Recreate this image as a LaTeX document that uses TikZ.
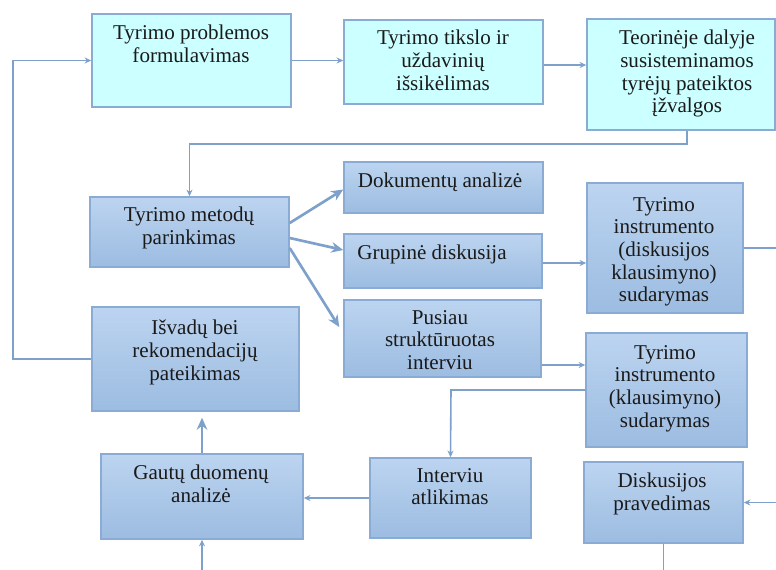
\documentclass[tikz,border=0pt]{standalone}
\usepackage{fontspec}
\setmainfont{Liberation Serif}
\usetikzlibrary{arrows.meta,calc}

\definecolor{cyanfill}{HTML}{CCFFFF}
\definecolor{boxtop}{HTML}{BCD4F0}
\definecolor{boxbot}{HTML}{9CBCE1}
\definecolor{boxline}{HTML}{8AABD4}
\definecolor{linkline}{HTML}{7EA1CC}
\definecolor{inktext}{HTML}{1A1A1A}

\tikzset{
  frame/.style={rectangle, draw=boxline, line width=1.1pt, inner sep=0pt},
  cyanbox/.style={frame, fill=cyanfill},
  bluebox/.style={frame, top color=boxtop, bottom color=boxbot},
  txt/.style={anchor=north, align=center, inner sep=0pt, text=inktext,
    font=\fontsize{15.8}{17}\selectfont},
  flow/.style={draw=linkline, line width=1.2pt,
    -{Stealth[length=5pt,width=4.5pt]}},
  thickflow/.style={draw=linkline, line width=2pt,
    -{Stealth[length=9pt,width=8pt]}},
}

% box given by its corners (x1,y1) and (x2,y2), in pixel units
\newcommand\flowbox[6]{%
  \node[#2, minimum width={(#5-#3)*0.75pt}, minimum height={(#6-#4)*0.75pt}]
    (#1) at ({(#3+#5)/2},{(#4+#6)/2}) {};}

\begin{document}
\begin{tikzpicture}[x=0.75pt, y=-0.75pt]
\path[use as bounding box] (0,0) rectangle (776,569);
\clip (0,0) rectangle (776,569);

% boxes
\flowbox{form}{cyanbox}{92}{14}{291}{107}
\flowbox{tiksl}{cyanbox}{344}{20}{543}{104}
\flowbox{teor}{cyanbox}{587}{19}{775}{130}
\flowbox{metod}{bluebox}{90}{197}{289}{267}
\flowbox{dok}{bluebox}{344}{162}{543}{213}
\flowbox{grup}{bluebox}{344}{234}{542}{288}
\flowbox{pus}{bluebox}{344}{300}{541}{377}
\flowbox{instd}{bluebox}{587}{183}{743}{313}
\flowbox{isv}{bluebox}{92}{307}{299}{411}
\flowbox{instk}{bluebox}{586}{333}{747}{447}
\flowbox{intv}{bluebox}{370}{458}{531}{538}
\flowbox{gaut}{bluebox}{101}{454}{303}{539}
\flowbox{disk}{bluebox}{584}{462}{743}{543}

% texts
\node[txt] (formt)  at (191,25)  {Tyrimo problemos\\formulavimas};
\node[txt] (tikslt) at (443,30)  {Tyrimo tikslo ir\\uždavinių\\išsikėlimas};
\node[txt] (teort)  at (687,30)  {Teorinėje dalyje\\susisteminamos\\tyrėjų pateiktos\\įžvalgos};
\node[txt] (metodt) at (189,207) {Tyrimo metodų\\parinkimas};
\node[txt] (dokt)   at (440,173) {Dokumentų analizė};
\node[txt] (grupt)  at (432,245) {Grupinė diskusija};
\node[txt] (pust)   at (440,310) {Pusiau\\struktūruotas\\interviu};
\node[txt] (instdt) at (664,197) {Tyrimo\\instrumento\\(diskusijos\\klausimyno)\\sudarymas};
\node[txt] (isvt)   at (195,320) {Išvadų bei\\rekomendacijų\\pateikimas};
\node[txt] (instkt) at (665,345) {Tyrimo\\instrumento\\(klausimyno)\\sudarymas};
\node[txt] (intvt)  at (450,468) {Interviu\\atlikimas};
\node[txt] (gautt)  at (201,465) {Gautų duomenų\\analizė};
\node[txt] (diskt)  at (662,473) {Diskusijos\\pravedimas};

% route helpers
\coordinate (toprow) at (0,144);
\coordinate (leftrail) at (13,0);
\coordinate (rightrail) at (790,0);
\coordinate (bottomrail) at (0,590);
\coordinate (intrail) at (451,0);

% connectors along the top row
\draw[flow] (form.east) -- (form.east -| tiksl.west);
\draw[flow] ([yshift=-2.25pt]tiksl.east) -- ([yshift=-2.25pt]tiksl.east -| teor.west);
\draw[flow] ([xshift=4.5pt]teor.south) -- ([xshift=4.5pt]teor.south |- toprow)
  -| (metod.north);

% method choice fanning out
\draw[thickflow] ([yshift=6.75pt]metod.east) -- ([yshift=-1.5pt]dok.west);
\draw[thickflow] ([yshift=-4.5pt]metod.east) -- ([yshift=8.25pt]grup.west);
\draw[thickflow] ([yshift=-12pt]metod.east) -- ([xshift=-3pt,yshift=8.6pt]pus.west);

% instruments
\draw[flow] ([yshift=-1.5pt]grup.east) -- ([yshift=-1.5pt]grup.east -| instd.west);
\draw[flow] ([yshift=-19.9pt]pus.east) -- ([yshift=-19.9pt]pus.east -| instk.west);
\draw[flow] (instk.west) -- (instk.west -| intrail) -- (intv.north);
\draw[flow] (instd.east) -- (instd.east -| rightrail) |- (disk.east);

% analysis and conclusions
\draw[flow] (intv.west) -- (intv.west -| gaut.east);
\draw[flow] (disk.south) -- (disk.south |- bottomrail) -| (gaut.south);
\draw[thickflow, shorten >=4.5pt] (gaut.north) -- (gaut.north |- isv.south);
\draw[flow] (isv.west) -- (isv.west -| leftrail) |- (form.west);
\end{tikzpicture}
\end{document}
